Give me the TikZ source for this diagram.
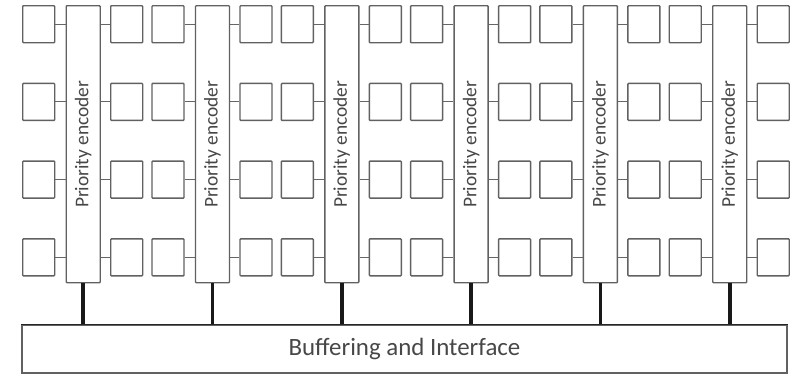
\documentclass[tikz,border=0pt]{standalone}
\usepackage{fontspec}
\setmainfont{Carlito}
\begin{document}
\begin{tikzpicture}[x=1bp,y=-1bp,
  cell/.style={draw=black!62, line width=1.4bp, minimum width=32bp, minimum height=37bp, inner sep=0pt, anchor=north west, rounded corners=0.8bp},
  enc/.style={draw=black!62, line width=1.4bp, minimum width=34bp, minimum height=277bp, inner sep=0pt, anchor=north west, rounded corners=0.8bp},
  enctext/.style={rotate=90, text=black!72, font=\fontsize{19.5}{19.5}\selectfont, inner sep=0pt},
  link/.style={draw=black!60, line width=1bp},
  bus/.style={draw=black!90, line width=3.6bp},
  buf/.style={draw=black!62, line width=1.4bp, minimum width=765bp, minimum height=48bp, inner sep=0pt, text=black!72, font=\fontsize{25}{25}\selectfont}]
\useasboundingbox (0,0) rectangle (798,376);
\node[buf] (buf) at (404.5,349) {Buffering and Interface};
\draw[black!85, line width=1.6bp] (buf.north west) -- (buf.north east);
\foreach \k in {0,...,5} {
  \pgfmathsetmacro\ex{65.5+129.3*\k}
  \node[enc] (e\k) at (\ex,5) {};
  \node[enctext] (t\k) at (e\k.center) {Priority encoder};
  \draw[bus] (e\k.south) -- (e\k.south |- buf.north);
  \foreach \r in {0,...,3} {
    \pgfmathsetmacro\ry{5+77.7*\r}
    \node[cell] (l\k-\r) at (\ex-43.5,\ry) {};
    \node[cell] (r\k-\r) at (\ex+44.5,\ry) {};
    \draw[link] (l\k-\r.east) -- (l\k-\r.east -| e\k.west);
    \draw[link] (r\k-\r.west) -- (r\k-\r.west -| e\k.east);
  }
}
\end{tikzpicture}
\end{document}
